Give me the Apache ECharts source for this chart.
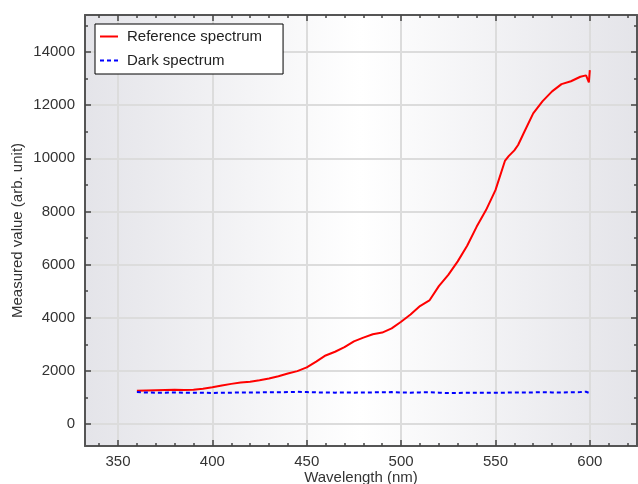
<!DOCTYPE html>
<html><head><meta charset="utf-8">
<script src="https://cdn.jsdelivr.net/npm/echarts@6/dist/echarts.min.js"></script>
<style>html,body{margin:0;padding:0;background:#fff}#c{width:638px;height:484px}</style>
</head><body><div id="c"></div>
<script>
const seriesNames = ['Reference spectrum', 'Dark spectrum'];
const refWavelengths = [360,365,370,375,380,385,390,395,400,405,410,415,420,425,430,435,440,445,450,455,460,465,470,475,480,485,490,495,500,505,510,515,520,525,530,535,540,545,550,555,557,560,562,565,570,575,580,585,590,595,598,599,599.5,600];
const refValues = [1250,1260,1270,1280,1285,1280,1290,1330,1380,1450,1510,1560,1590,1650,1715,1800,1900,1990,2130,2350,2580,2720,2890,3110,3250,3380,3440,3600,3850,4120,4440,4650,5190,5610,6120,6710,7420,8050,8800,9900,10080,10300,10500,10950,11690,12150,12520,12790,12900,13070,13120,13150,12860,13320];
const darkWavelengths = [360,365,370,375,380,385,390,395,400,405,410,415,420,425,430,435,440,445,450,455,460,465,470,475,480,485,490,495,500,505,510,515,520,525,530,535,540,545,550,555,560,565,570,575,580,585,590,595,598,600];
const darkValues = [1200,1185,1180,1180,1185,1180,1180,1175,1170,1175,1180,1185,1190,1190,1195,1195,1200,1210,1200,1190,1185,1180,1185,1180,1185,1190,1195,1200,1185,1180,1190,1195,1180,1165,1170,1175,1175,1175,1175,1180,1185,1185,1190,1195,1190,1185,1195,1200,1215,1160];
const xMajorTicks = [350,400,450,500,550,600];
const xMinorTicks = [340,360,370,380,390,410,420,430,440,460,470,480,490,510,520,530,540,560,570,580,590,610,620];
const yMajorTicks = [0,2000,4000,6000,8000,10000,12000,14000];
const yMinorTicks = [1000,3000,5000,7000,9000,11000,13000,15000];

const X_MIN = 332.5, X_MAX = 625, Y_MIN = -828, Y_MAX = 15393;
const FONT = 'Liberation Sans';
const frameLine = {show: true, onZero: false, lineStyle: {color: '#555', width: 2}};
const noLine = {show: false, onZero: false};

function xAxisDef(pos, major) {
  return {
    type: 'value', position: pos, min: X_MIN, max: X_MAX,
    axisLine: major ? frameLine : noLine,
    axisTick: {show: true, inside: true, length: major ? 6 : 3, customValues: major ? xMajorTicks : xMinorTicks, lineStyle: {color: '#444', width: 1.5}},
    axisLabel: {show: major && pos === 'bottom', customValues: xMajorTicks, formatter: v => String(v), margin: 8, color: '#333', fontSize: 15, fontFamily: FONT},
    splitLine: {show: major && pos === 'bottom', lineStyle: {color: '#dcdcdc', width: 2}},
    name: (major && pos === 'bottom') ? 'Wavelength (nm)' : '',
    nameLocation: 'middle', nameGap: 24, nameMoveOverlap: false,
    nameTextStyle: {color: '#333', fontSize: 15, fontFamily: FONT}
  };
}
function yAxisDef(pos, major) {
  return {
    type: 'value', position: pos, min: Y_MIN, max: Y_MAX,
    axisLine: major ? frameLine : noLine,
    axisTick: {show: true, inside: true, length: major ? 6 : 3, customValues: major ? yMajorTicks : yMinorTicks, lineStyle: {color: '#444', width: 1.5}},
    axisLabel: {show: major && pos === 'left', customValues: yMajorTicks, formatter: v => String(v), margin: 10, color: '#333', fontSize: 15, fontFamily: FONT},
    splitLine: {show: major && pos === 'left', lineStyle: {color: '#dcdcdc', width: 2}},
    name: (major && pos === 'left') ? 'Measured value (arb. unit)' : '',
    nameLocation: 'middle', nameGap: 60, nameMoveOverlap: false,
    nameTextStyle: {color: '#333', fontSize: 15, fontFamily: FONT}
  };
}

const chart = echarts.init(document.getElementById('c'), null, {renderer: 'canvas'});
chart.setOption({
  animation: false,
  backgroundColor: '#fff',
  grid: {
    left: 85, right: 1, top: 15, bottom: 38, show: true, borderWidth: 0,
    outerBoundsMode: 'none', containLabel: false,
    backgroundColor: {type: 'linear', x: 0, y: 0, x2: 1, y2: 0, colorStops: [
      {offset: 0, color: '#e4e4e9'}, {offset: 0.5, color: '#ffffff'}, {offset: 1, color: '#e4e4e9'}]}
  },
  legend: {
    data: seriesNames, orient: 'vertical', left: 95, top: 24,
    padding: [5, 21, 6, 4], itemGap: 9, itemWidth: 18, itemHeight: 14,
    backgroundColor: '#fff', borderColor: '#000', borderWidth: 1, borderRadius: 0,
    itemStyle: {opacity: 0},
    textStyle: {fontSize: 15, color: '#222', fontFamily: FONT, lineHeight: 14, padding: [0, 0, 0, 4]}
  },
  xAxis: [xAxisDef('bottom', true), xAxisDef('bottom', false), xAxisDef('top', true), xAxisDef('top', false)],
  yAxis: [yAxisDef('left', true), yAxisDef('left', false), yAxisDef('right', true), yAxisDef('right', false)],
  series: [
    {name: seriesNames[0], type: 'line', xAxisIndex: 0, yAxisIndex: 0, symbol: 'none', showSymbol: false,
     data: refWavelengths.map((w, i) => [w, refValues[i]]),
     lineStyle: {color: '#ff0000', width: 2}, itemStyle: {color: '#ff0000'}},
    {name: seriesNames[1], type: 'line', xAxisIndex: 0, yAxisIndex: 0, symbol: 'none', showSymbol: false,
     data: darkWavelengths.map((w, i) => [w, darkValues[i]]),
     lineStyle: {color: '#0000ff', width: 2, type: [4, 3]}, itemStyle: {color: '#0000ff'}}
  ]
});
</script></body></html>
